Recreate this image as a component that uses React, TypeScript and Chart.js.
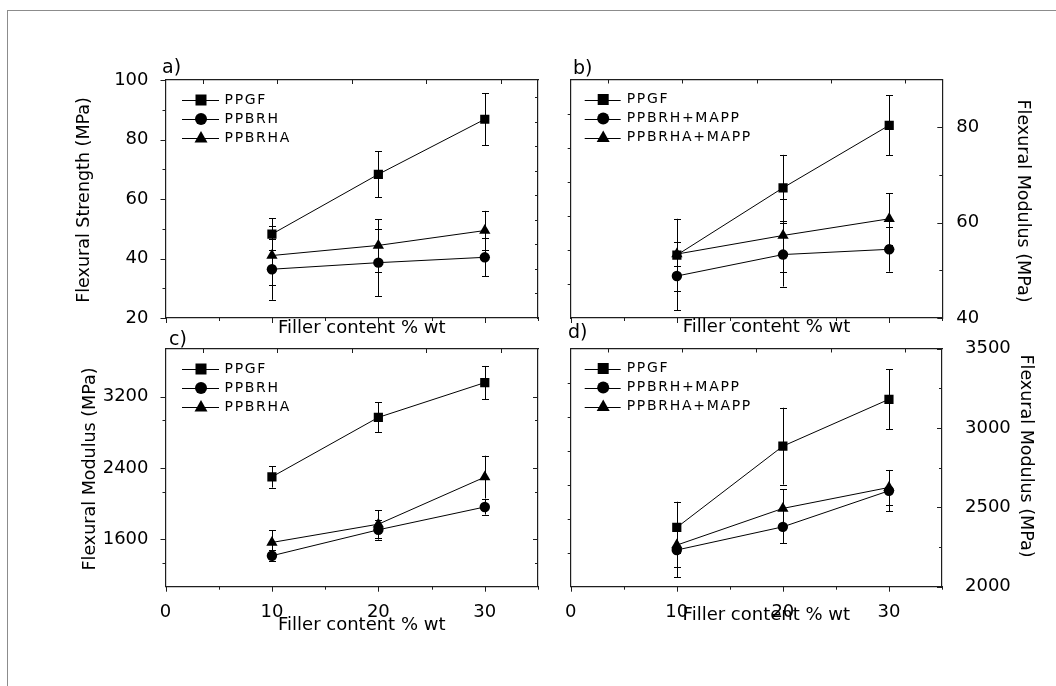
import React, { useEffect, useRef } from 'react';
import { Chart, registerables } from 'chart.js';

Chart.register(...registerables);

// ---------------- data ----------------
const fillerContent = [10, 20, 30];
const xTickLabels = [0, 10, 20, 30];

const seriesNamesAC = ['PPGF', 'PPBRH', 'PPBRHA'];
const seriesNamesBD = ['PPGF', 'PPBRH+MAPP', 'PPBRHA+MAPP'];

// a) Flexural strength
const strengthPPGF = [48.2, 68.3, 86.8];
const strengthPPGFErr = [5.3, 7.7, 8.8];
const strengthPPBRH = [36.4, 38.6, 40.4];
const strengthPPBRHErr = [10.3, 11.2, 6.4];
const strengthPPBRHA = [41.0, 44.4, 49.4];
const strengthPPBRHAErr = [9.8, 8.8, 6.6];
const strengthTicks = [20, 40, 60, 80, 100];

// b) Flexural strength with MAPP
const strengthMappPPGF = [53.2, 67.3, 80.4];
const strengthMappPPGFErr = [7.6, 6.9, 6.3];
const strengthMappPPBRH = [48.8, 53.3, 54.4];
const strengthMappPPBRHErr = [7.2, 6.7, 4.7];
const strengthMappPPBRHA = [53.4, 57.3, 60.8];
const strengthMappPPBRHAErr = [2.6, 7.7, 5.4];
const strengthMappTicks = [40, 60, 80];

// c) Flexural modulus
const modulusPPGF = [2299, 2966, 3356];
const modulusPPGFErr = [120, 168, 187];
const modulusPPBRH = [1414, 1705, 1961];
const modulusPPBRHErr = [60, 110, 85];
const modulusPPBRHA = [1563, 1768, 2296];
const modulusPPBRHAErr = [138, 155, 240];
const modulusTicks = [1600, 2400, 3200];

// d) Flexural modulus with MAPP
const modulusMappPPGF = [2373, 2885, 3180];
const modulusMappPPGFErr = [162, 242, 190];
const modulusMappPPBRH = [2231, 2377, 2604];
const modulusMappPPBRHErr = [172, 104, 130];
const modulusMappPPBRHA = [2262, 2493, 2625];
const modulusMappPPBRHAErr = [140, 120, 110];
const modulusMappTicks = [2000, 2500, 3000, 3500];

// ---------------- layout / style ----------------
const W = 1056;
const H = 686;
const FONT = '"DejaVu Sans", sans-serif';
const FRAME = '#1e1e1e';

const c3 = 2666.6667 / 10;
const cMin = 1066.6667;
const cMax = 3733.3333;
const cMinor = [1, 2, 4, 5, 7, 8].map((k) => cMin + k * c3);

const panels = [
  {
    area: [165.5, 80, 538, 318],
    yRight: false,
    yMin: 20, yMax: 100, yTicks: strengthTicks, yMinor: [30, 50, 70, 90],
    mirror: { min: 0, max: 9.714, major: [], minor: [1, 2, 3, 4, 5, 6, 7, 8, 9] },
    names: seriesNamesAC,
    values: [strengthPPGF, strengthPPBRH, strengthPPBRHA],
    errors: [strengthPPGFErr, strengthPPBRHErr, strengthPPBRHAErr],
    showX: false, labelPad: 9,
    letter: 'a)', letterPos: [162, 73],
    xTitleY: 333,
    yTitle: 'Flexural Strength (MPa)', yTitlePos: [84, 200], yRot: -1,
    legend: [16.5, 53.5, 35.5, 59],
  },
  {
    area: [570.7, 79.5, 942.3, 318],
    yRight: true,
    yMin: 40, yMax: 90, yTicks: strengthMappTicks, yMinor: [50, 70],
    mirror: { min: 0, max: 7, major: [], minor: [1, 2, 3, 4, 5, 6] },
    names: seriesNamesBD,
    values: [strengthMappPPGF, strengthMappPPBRH, strengthMappPPBRHA],
    errors: [strengthMappPPGFErr, strengthMappPPBRHErr, strengthMappPPBRHAErr],
    showX: false, labelPad: 6,
    letter: 'b)', letterPos: [573, 74],
    xTitleY: 332,
    yTitle: 'Flexural Modulus (MPa)', yTitlePos: [1023, 201], yRot: 1,
    legend: [14, 50, 32.5, 56],
  },
  {
    area: [165.5, 349, 538, 586.7],
    yRight: false,
    yMin: cMin, yMax: cMax, yTicks: modulusTicks, yMinor: cMinor,
    mirror: { min: cMin, max: cMax, major: modulusTicks, minor: cMinor },
    names: seriesNamesAC,
    values: [modulusPPGF, modulusPPBRH, modulusPPBRHA],
    errors: [modulusPPGFErr, modulusPPBRHErr, modulusPPBRHAErr],
    showX: true, labelPad: 9,
    letter: 'c)', letterPos: [169, 345],
    xTitleY: 630,
    yTitle: 'Flexural Modulus (MPa)', yTitlePos: [90, 469], yRot: -1,
    legend: [16.5, 53.5, 35.5, 59],
  },
  {
    area: [570.7, 348.5, 942, 586.7],
    yRight: true,
    yMin: 2000, yMax: 3500, yTicks: modulusMappTicks, yMinor: [2250, 2750, 3250],
    mirror: { min: 0, max: 7, major: [], minor: [1, 2, 3, 4, 5, 6] },
    names: seriesNamesBD,
    values: [modulusMappPPGF, modulusMappPPBRH, modulusMappPPBRHA],
    errors: [modulusMappPPGFErr, modulusMappPPBRHErr, modulusMappPPBRHAErr],
    showX: true, labelPad: 15,
    letter: 'd)', letterPos: [568, 338],
    xTitleY: 620,
    yTitle: 'Flexural Modulus (MPa)', yTitlePos: [1026, 456], yRot: 1,
    legend: [14, 50, 32.5, 56],
  },
];

const POINT_STYLES = ['rect', 'circle', 'triangle'];
const POINT_RADII = [6.5, 5.2, 6.5];
const LEGEND_ROWS = [20, 39, 58];

function drawLegendMarker(ctx: CanvasRenderingContext2D, style: string, x: number, y: number) {
  ctx.beginPath();
  if (style === 'rect') {
    ctx.rect(x - 5.5, y - 5.5, 11, 11);
  } else if (style === 'circle') {
    ctx.arc(x, y, 6, 0, Math.PI * 2);
  } else {
    ctx.moveTo(x, y - 7);
    ctx.lineTo(x + 6.5, y + 4.5);
    ctx.lineTo(x - 6.5, y + 4.5);
    ctx.closePath();
  }
  ctx.fill();
}

function makeChart(canvas: HTMLCanvasElement, p: any) {
  const [l, t, r, b] = p.area;
  const LW = 85, RW = 85, BH = 40, TH = 10;
  const dataAxis = p.yRight ? 'yr' : 'yl';
  const mirrorAxis = p.yRight ? 'yl' : 'yr';

  const datasets = p.names.map((name: string, i: number) => ({
    label: name,
    data: fillerContent.map((x, j) => ({ x, y: p.values[i][j] })),
    errors: p.errors[i],
    xAxisID: 'x',
    yAxisID: dataAxis,
    borderColor: '#000',
    backgroundColor: '#000',
    borderWidth: 1,
    pointStyle: POINT_STYLES[i],
    pointRadius: POINT_RADII[i],
    pointHoverRadius: POINT_RADII[i],
    pointBackgroundColor: '#000',
    pointBorderColor: '#000',
    pointBorderWidth: 0,
    tension: 0,
    fill: false,
  }));

  const tickFont = { family: FONT, size: 18 };
  const border = { display: true, color: FRAME, width: 1.2 };
  const noGrid = { display: false };
  const plain = (v: any) => String(v);
  const setTicks = (vals: number[]) => (s: any) => {
    s.ticks = vals.map((v) => ({ value: v }));
  };

  const dataScale = {
    type: 'linear',
    axis: 'y',
    position: p.yRight ? 'right' : 'left',
    min: p.yMin,
    max: p.yMax,
    grid: noGrid,
    border,
    ticks: { display: true, font: tickFont, color: '#000', padding: p.labelPad, autoSkip: false, callback: plain },
    afterBuildTicks: setTicks(p.yTicks),
    afterFit: (s: any) => { s.width = p.yRight ? RW : LW; },
  };
  const mirrorScale = {
    type: 'linear',
    axis: 'y',
    position: p.yRight ? 'left' : 'right',
    min: p.mirror.min,
    max: p.mirror.max,
    grid: noGrid,
    border,
    ticks: { display: false },
    afterFit: (s: any) => { s.width = p.yRight ? LW : RW; },
  };

  const tickMarks = [
    { axis: 'x', values: [0, 10, 20, 30], len: 5, out: true },
    { axis: 'x', values: [5, 15, 25, 35], len: 3, out: true },
    { axis: 'xt', values: [3.5, 10.5, 17.5, 24.5, 31.5], len: 4, out: false },
    { axis: dataAxis, values: p.yTicks, len: 5, out: !p.yRight },
    { axis: dataAxis, values: p.yMinor, len: 3, out: !p.yRight },
    { axis: mirrorAxis, values: p.mirror.major, len: 5, out: p.yRight },
    { axis: mirrorAxis, values: p.mirror.minor, len: 3, out: p.yRight },
  ];

  const errorBars = {
    id: 'errorBars',
    beforeDatasetsDraw(chart: any) {
      const ctx = chart.ctx;
      const ys = chart.scales[dataAxis];
      ctx.save();
      ctx.strokeStyle = '#000';
      ctx.lineWidth = 1;
      chart.data.datasets.forEach((ds: any, i: number) => {
        const meta = chart.getDatasetMeta(i);
        meta.data.forEach((pt: any, j: number) => {
          const v = ds.data[j].y;
          const e = ds.errors[j];
          const x = Math.round(pt.x) + 0.5;
          const y1 = ys.getPixelForValue(v + e);
          const y2 = ys.getPixelForValue(v - e);
          const cap = 3.5;
          ctx.beginPath();
          ctx.moveTo(x, y1);
          ctx.lineTo(x, y2);
          ctx.moveTo(x - cap, Math.round(y1) + 0.5);
          ctx.lineTo(x + cap, Math.round(y1) + 0.5);
          ctx.moveTo(x - cap, Math.round(y2) + 0.5);
          ctx.lineTo(x + cap, Math.round(y2) + 0.5);
          ctx.stroke();
        });
      });
      ctx.restore();
    },
  };

  const decorations = {
    id: 'decorations',
    afterDraw(chart: any) {
      const ctx = chart.ctx;
      const area = chart.chartArea;
      ctx.save();
      // tick marks
      ctx.strokeStyle = FRAME;
      ctx.lineWidth = 1;
      tickMarks.forEach((m) => {
        const s = chart.scales[m.axis];
        m.values.forEach((v: number) => {
          const px = Math.round(s.getPixelForValue(v)) + 0.5;
          ctx.beginPath();
          if (m.axis === 'x' || m.axis === 'xt') {
            const y0 = m.axis === 'x' ? area.bottom : area.top;
            const dir = m.axis === 'x' ? (m.out ? 1 : -1) : (m.out ? -1 : 1);
            ctx.moveTo(px, y0);
            ctx.lineTo(px, y0 + dir * m.len);
          } else {
            const x0 = m.axis === 'yl' ? area.left : area.right;
            const dir = m.axis === 'yl' ? (m.out ? -1 : 1) : (m.out ? 1 : -1);
            ctx.moveTo(x0, px);
            ctx.lineTo(x0 + dir * m.len, px);
          }
          ctx.stroke();
        });
      });

      ctx.fillStyle = '#000';
      // panel letter
      ctx.font = `19px ${FONT}`;
      ctx.textAlign = 'left';
      ctx.textBaseline = 'alphabetic';
      ctx.fillText(p.letter, p.letterPos[0], p.letterPos[1]);

      // x title
      ctx.font = `18px ${FONT}`;
      ctx.textAlign = 'center';
      ctx.fillText('Filler content % wt', (area.left + area.right) / 2 + 10, p.xTitleY);

      // y title
      ctx.save();
      ctx.font = `17.5px ${FONT}`;
      ctx.translate(p.yTitlePos[0], p.yTitlePos[1]);
      ctx.rotate((p.yRot * Math.PI) / 2);
      ctx.textAlign = 'center';
      ctx.textBaseline = 'middle';
      ctx.fillText(p.yTitle, 0, 0);
      ctx.restore();

      // legend
      const [ls, le, mk, tx] = p.legend;
      chart.data.datasets.forEach((ds: any, i: number) => {
        const y = area.top + LEGEND_ROWS[i];
        ctx.strokeStyle = '#000';
        ctx.lineWidth = 1;
        ctx.beginPath();
        ctx.moveTo(area.left + ls, Math.round(y) + 0.5);
        ctx.lineTo(area.left + le, Math.round(y) + 0.5);
        ctx.stroke();
        drawLegendMarker(ctx, POINT_STYLES[i], area.left + mk, y);
        ctx.font = `14px ${FONT}`;
        (ctx as any).letterSpacing = '1.7px';
        ctx.textAlign = 'left';
        ctx.textBaseline = 'middle';
        ctx.fillText(ds.label, area.left + tx, y);
        (ctx as any).letterSpacing = '0px';
      });
      ctx.restore();
    },
  };

  return new Chart(canvas, {
    type: 'line',
    data: { datasets },
    options: {
      responsive: false,
      maintainAspectRatio: false,
      animation: false,
      events: [],
      layout: {
        padding: { left: l - LW, right: W - r - RW, top: t - TH, bottom: H - b - BH },
      },
      plugins: { legend: { display: false }, tooltip: { enabled: false }, title: { display: false } },
      scales: {
        x: {
          type: 'linear',
          axis: 'x',
          position: 'bottom',
          min: 0,
          max: 35,
          grid: noGrid,
          border,
          ticks: { display: p.showX, font: tickFont, color: '#000', padding: 6.5, autoSkip: false, maxRotation: 0, callback: plain },
          afterBuildTicks: setTicks(xTickLabels),
          afterFit: (s: any) => { s.height = BH; },
        },
        xt: {
          type: 'linear',
          axis: 'x',
          position: 'top',
          min: 0,
          max: 35,
          grid: noGrid,
          border,
          ticks: { display: false },
          afterFit: (s: any) => { s.height = TH; },
        },
        [dataAxis]: dataScale,
        [mirrorAxis]: mirrorScale,
      },
    } as any,
    plugins: [errorBars, decorations],
  } as any);
}

export default function App() {
  const r0 = useRef<HTMLCanvasElement>(null);
  const r1 = useRef<HTMLCanvasElement>(null);
  const r2 = useRef<HTMLCanvasElement>(null);
  const r3 = useRef<HTMLCanvasElement>(null);
  const refs = [r0, r1, r2, r3];

  useEffect(() => {
    const charts = panels.map((p, i) => makeChart(refs[i].current as HTMLCanvasElement, p));
    return () => charts.forEach((c) => c.destroy());
  }, []);

  return (
    <div style={{ position: 'absolute', left: 0, top: 0, width: W, height: H, background: '#fff', overflow: 'hidden' }}>
      <div
        style={{
          position: 'absolute',
          left: 7,
          top: 10,
          width: W,
          height: H,
          borderTop: '1px solid #8c8c8c',
          borderLeft: '1px solid #8c8c8c',
        }}
      />
      {refs.map((ref, i) => (
        <canvas
          key={i}
          ref={ref}
          width={W}
          height={H}
          style={{ position: 'absolute', left: 0, top: 0, width: W, height: H }}
        />
      ))}
    </div>
  );
}
